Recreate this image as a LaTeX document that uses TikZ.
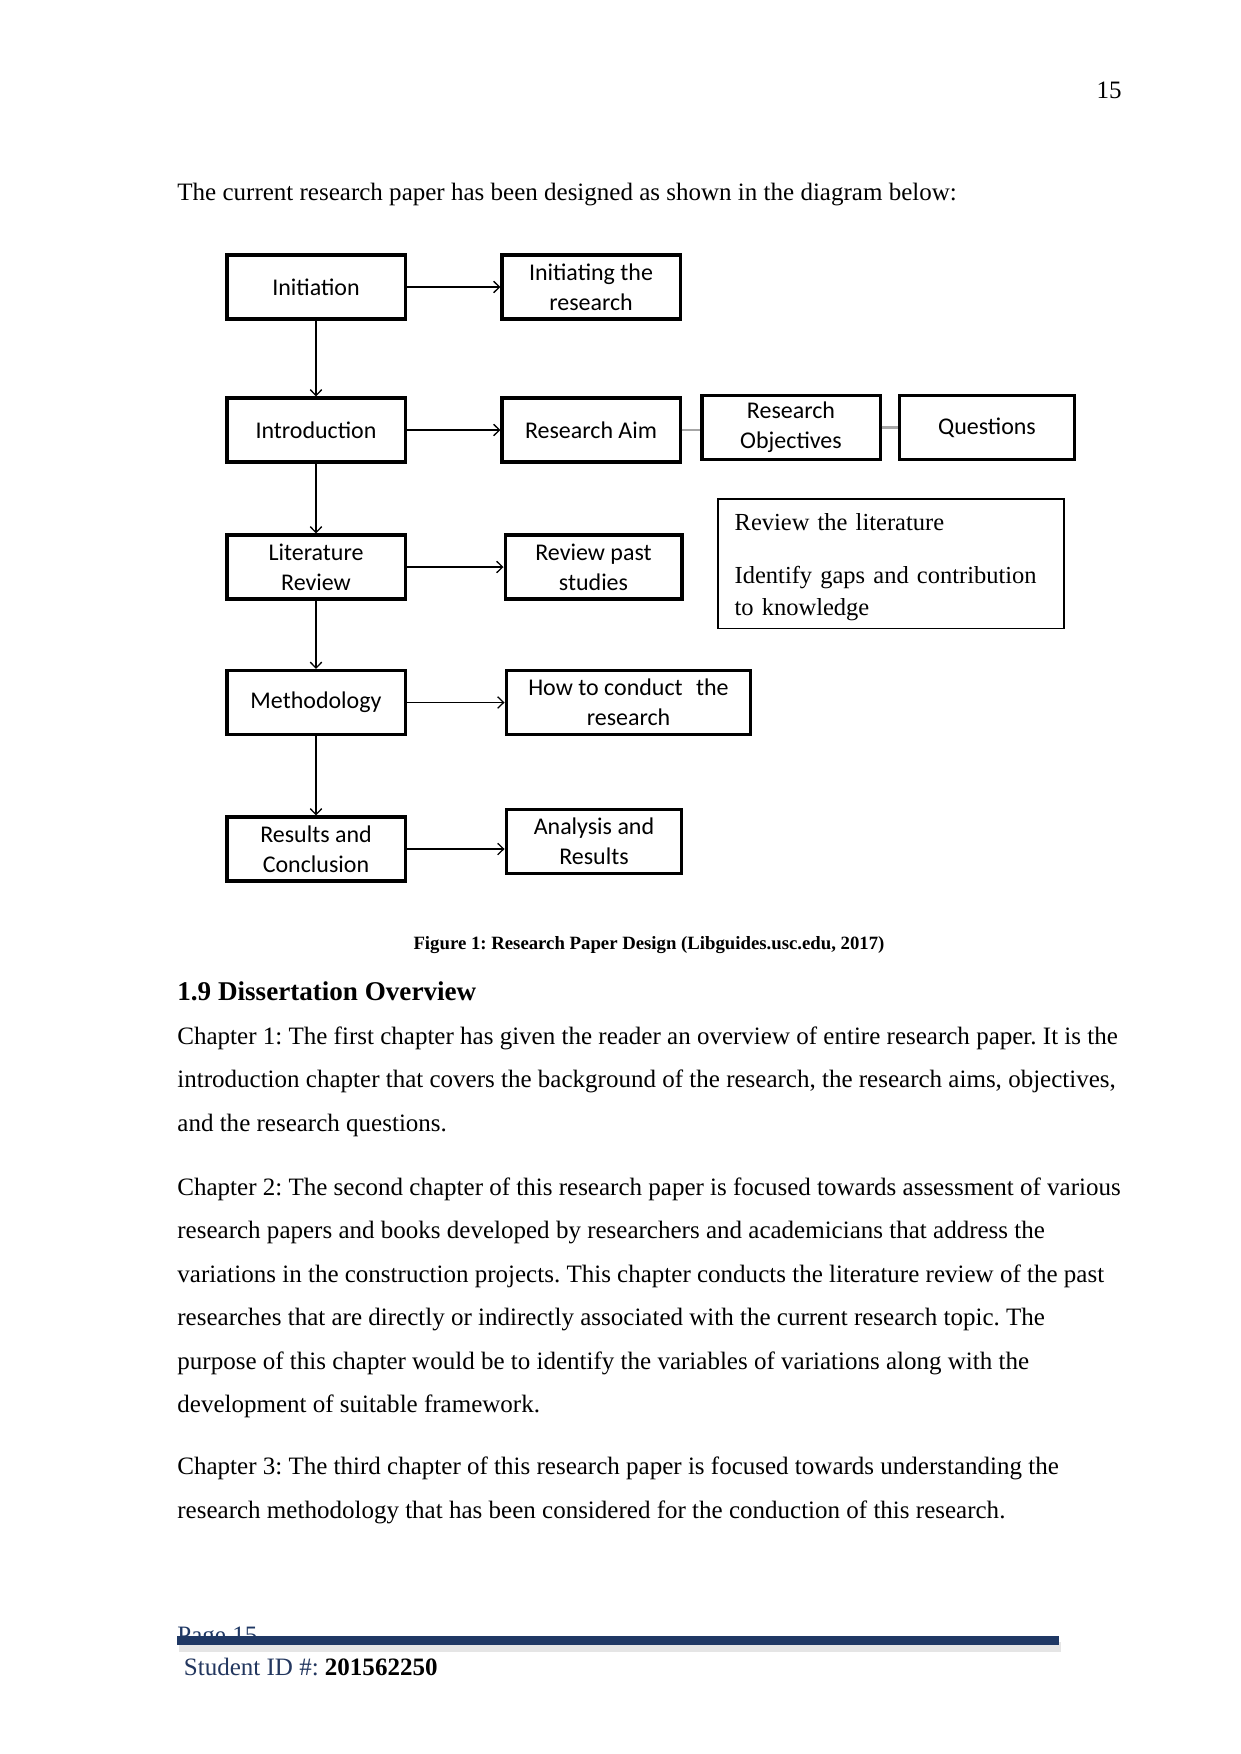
\documentclass[tikz,border=0pt]{standalone}
\usepackage{fontspec}
\setmainfont{Liberation Serif}
\newfontfamily\boxfont{Carlito}
\usetikzlibrary{arrows.meta}
\definecolor{footerblue}{RGB}{31, 56, 100}
\definecolor{idblue}{RGB}{35, 55, 95}
\frenchspacing

\begin{document}
\begin{tikzpicture}[x=0.4797pt, y=-0.4797pt, >={Straight Barb[length=2.8pt, width=5.5pt]},
    stepbox/.style={draw, line width=1.45pt, minimum width=85.4pt, minimum height=30.7pt,
      inner sep=1pt, align=center, font=\boxfont\fontsize{11.5}{14.4}\selectfont},
    flow/.style={->, line width=0.65pt},
    link/.style={line width=1.1pt, gray!70},
    txt/.style={anchor=north west, inner sep=0pt, align=left, font=\fontsize{12}{20.87}\selectfont}]
  \fill[white] (0,0) rectangle (1241,1754);
  % page head and intro line
  \node[anchor=mid east, inner sep=0pt, font=\fontsize{12}{14}\selectfont] (pagenum) at (1122,93.5) {15};
  \node[anchor=mid west, inner sep=0pt, font=\fontsize{12}{14}\selectfont] (introline) at (177,196)
    {The current research paper has been designed as shown in the diagram below:};
  % left column: stages
  \node[stepbox] (init) at (316,287) {Initiation};
  \node[stepbox] (intro) at (316,430) {Introduction};
  \node[stepbox] (lit) at (316,567) {Literature\\Review};
  \node[stepbox] (meth) at (316,702.5) {Methodology};
  \node[stepbox] (res) at (316,849) {Results and\\Conclusion};
  % right column: what each stage does
  \node[stepbox] (initres) at (591,287) {Initiating the\\research};
  \node[stepbox] (aim) at (591,430) {Research Aim};
  \node[stepbox] (obj) at (791,427.5) {Research\\Objectives};
  \node[stepbox, minimum width=84.4pt] (ques) at (987,427.5) {Questions};
  \node[stepbox, minimum width=84.9pt] (past) at (593.5,567) {Review past\\studies};
  \node[stepbox, minimum width=117.5pt] (how) at (628.5,702.5) {How to conduct\,\, the\\research};
  \node[stepbox, minimum width=84.4pt] (anal) at (594,841.5) {Analysis and\\Results};
  \node[draw, line width=0.6pt, text width=150pt, inner xsep=8pt, minimum height=61.9pt,
    align=left, font=\fontsize{11.75}{15.6}\selectfont] (litnote) at (891,563.5)
    {\rule{0pt}{11.6pt}Review the literature\\[10pt]Identify gaps and contribution\\to knowledge};
  % connectors
  \draw[flow] (init) -- (intro);
  \draw[flow] (intro) -- (lit);
  \draw[flow] (lit) -- (meth);
  \draw[flow] (meth) -- (res);
  \draw[flow] (init) -- (initres);
  \draw[flow] (intro) -- (aim);
  \draw[flow] (lit) -- (past);
  \draw[flow] (meth) -- (how);
  \draw[flow] (res.east) -- (res.east -| anal.west);
  \draw[link] (aim.east) -- (aim.east -| obj.west);
  \draw[link] (obj) -- (ques);
  % caption and overview text
  \node[inner sep=0pt, font=\bfseries\fontsize{9}{11}\selectfont] (caption) at (649,945)
    {Figure 1: Research Paper Design (Libguides.usc.edu, 2017)};
  \node[anchor=mid west, inner sep=0pt, font=\bfseries\fontsize{13}{16}\selectfont] (heading) at (177,996)
    {1.9 Dissertation Overview};
  \node[txt] (chapone) at (177,1026)
    {Chapter 1: The first chapter has given the reader an overview of entire research paper. It is the\\
     introduction chapter that covers the background of the research, the research aims, objectives,\\
     and the research questions.};
  \node[txt] (chaptwo) at (177,1177)
    {Chapter 2: The second chapter of this research paper is focused towards assessment of various\\
     research papers and books developed by researchers and academicians that address the\\
     variations in the construction projects. This chapter conducts the literature review of the past\\
     researches that are directly or indirectly associated with the current research topic. The\\
     purpose of this chapter would be to identify the variables of variations along with the\\
     development of suitable framework.};
  \node[txt] (chapthree) at (177,1456.5)
    {Chapter 3: The third chapter of this research paper is focused towards understanding the\\
     research methodology that has been considered for the conduction of this research.};
  % footer
  \node[anchor=mid west, inner sep=0pt, text=footerblue, font=\fontsize{12}{14}\selectfont] (pagefoot) at (177,1639) {Page 15};
  \draw[line width=5pt, gray!20] (179,1647) -- (1061,1647);
  \draw[line width=4.3pt, footerblue] (177,1640.5) -- (1059,1640.5);
  \node[anchor=mid west, inner sep=0pt, text=idblue, font=\fontsize{12}{14}\selectfont] (studentid) at (183.5,1671)
    {Student ID \#: \textcolor{black}{\bfseries 201562250}};
\end{tikzpicture}
\end{document}
